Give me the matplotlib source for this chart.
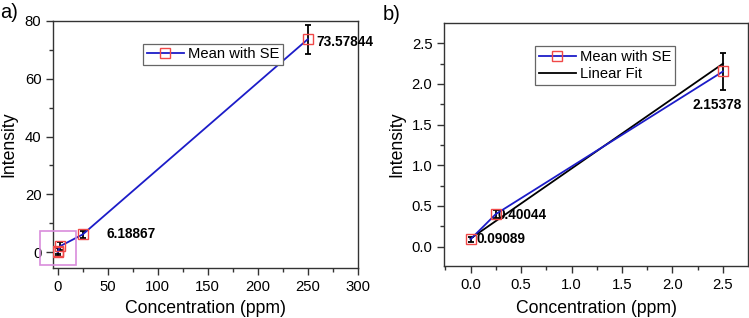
import matplotlib
matplotlib.use("Agg")
import matplotlib.pyplot as plt
from matplotlib.ticker import MultipleLocator
from matplotlib.patches import Rectangle

plt.rcParams['font.family'] = ['Liberation Sans', 'DejaVu Sans']

# ---- data ----
conc_a = [0, 0.25, 2.5, 25, 250]
mean_a = [0.09089, 0.40044, 2.15378, 6.18867, 73.57844]
err_a = [1.5, 1.0, 1.5, 1.2, 5.0]
labels_a = {3: "6.18867", 4: "73.57844"}

conc_b = [0, 0.25, 2.5]
mean_b = [0.09089, 0.40044, 2.15378]
err_b = [0.03, 0.05, 0.225]
labels_b = ["0.09089", "0.40044", "2.15378"]

fit_x = [0, 2.5]
fit_intercept = 0.10
fit_slope = 0.86

line_color = '#1c1cc8'
marker_edge = '#f04848'

fig = plt.figure(figsize=(7.49, 3.18), dpi=100)

def style_axes(ax, ylab_x, xlab_y):
    for s in ax.spines.values():
        s.set_linewidth(1.0)
        s.set_color('#333333')
    ax.tick_params(which='major', direction='out', length=5, width=1, labelsize=10.7, color='#333333')
    ax.tick_params(which='minor', direction='out', length=3, width=1, color='#333333')
    ax.set_xlabel('Concentration (ppm)', fontsize=12.7)
    ax.set_ylabel('Intensity', fontsize=12.7)
    ax.yaxis.set_label_coords(ylab_x, 0.5)
    ax.xaxis.set_label_coords(0.5, xlab_y)

# ---- panel a ----
axa = fig.add_axes([53.3/749, 1-268.3/318, 304.4/749, 247.6/318])
axa.errorbar(conc_a, mean_a, yerr=err_a, fmt='none', ecolor='black', elinewidth=1.3, capsize=2.5, capthick=1.3, zorder=3)
axa.plot(conc_a, mean_a, color=line_color, lw=1.3, marker='s', ms=7.5, mfc='none', mec=marker_edge, mew=1.0, label='Mean with SE', zorder=4)
axa.set_xlim(-4.4, 300)
axa.set_ylim(-5.5, 80)
axa.xaxis.set_major_locator(MultipleLocator(50))
axa.xaxis.set_minor_locator(MultipleLocator(25))
axa.yaxis.set_major_locator(MultipleLocator(20))
axa.yaxis.set_minor_locator(MultipleLocator(10))
style_axes(axa, -0.119, -0.13)
axa.annotate(labels_a[3], (conc_a[3], mean_a[3]), xytext=(17, 0), textcoords='offset points',
             fontsize=9.8, fontweight='bold', va='center', ha='left')
axa.annotate(labels_a[4], (conc_a[4], mean_a[4]), xytext=(6, -2), textcoords='offset points',
             fontsize=9.8, fontweight='bold', va='center', ha='left', annotation_clip=False)
axa.add_patch(Rectangle((-17.8, -4.3), 36.2, 11.6, fill=False, edgecolor='#d98cdc', lw=1.2, clip_on=False, zorder=5))
lga = axa.legend(loc='upper left', bbox_to_anchor=(0.295, 0.907), borderaxespad=0, fontsize=10.6,
                 handlelength=2.5, fancybox=False, framealpha=1, edgecolor='#666666',
                 borderpad=0.25, handletextpad=0.3)
lga.get_frame().set_linewidth(0.9)

# ---- panel b ----
axb = fig.add_axes([444.3/749, 1-265.7/318, 303.4/749, 242.4/318])
axb.errorbar(conc_b, mean_b, yerr=err_b, fmt='none', ecolor='black', elinewidth=1.3, capsize=2.5, capthick=1.3, zorder=3)
axb.plot(conc_b, mean_b, color=line_color, lw=1.3, marker='s', ms=7.5, mfc='none', mec=marker_edge, mew=1.0, label='Mean with SE', zorder=4)
fit_y = [fit_intercept + fit_slope * x for x in fit_x]
axb.plot(fit_x, fit_y, color='black', lw=1.3, label='Linear Fit', zorder=3.5)
axb.set_xlim(-0.26, 2.745)
axb.set_ylim(-0.234, 2.746)
axb.xaxis.set_major_locator(MultipleLocator(0.5))
axb.xaxis.set_minor_locator(MultipleLocator(0.25))
axb.yaxis.set_major_locator(MultipleLocator(0.5))
axb.yaxis.set_minor_locator(MultipleLocator(0.25))
style_axes(axb, -0.1295, -0.143)
axb.annotate(labels_b[0], (conc_b[0], mean_b[0]), xytext=(4.5, 0), textcoords='offset points',
             fontsize=9.8, fontweight='bold', va='center', ha='left')
axb.annotate(labels_b[1], (conc_b[1], mean_b[1]), xytext=(1.5, -1), textcoords='offset points',
             fontsize=9.8, fontweight='bold', va='center', ha='left')
axb.annotate(labels_b[2], (conc_b[2], mean_b[2]), xytext=(-4, -24), textcoords='offset points',
             fontsize=9.8, fontweight='bold', va='center', ha='center')
lgb = axb.legend(loc='upper left', bbox_to_anchor=(0.299, 0.906), borderaxespad=0, fontsize=10.6,
                 handlelength=2.5, fancybox=False, framealpha=1, edgecolor='#666666',
                 borderpad=0.25, handletextpad=0.3, labelspacing=0.25)
lgb.get_frame().set_linewidth(0.9)

fig.text(0.0, 1-12/318, 'a)', fontsize=14.5, va='center', ha='left')
fig.text(383/749, 1-14/318, 'b)', fontsize=14.5, va='center', ha='left')

fig.savefig('out.png', dpi=100)
